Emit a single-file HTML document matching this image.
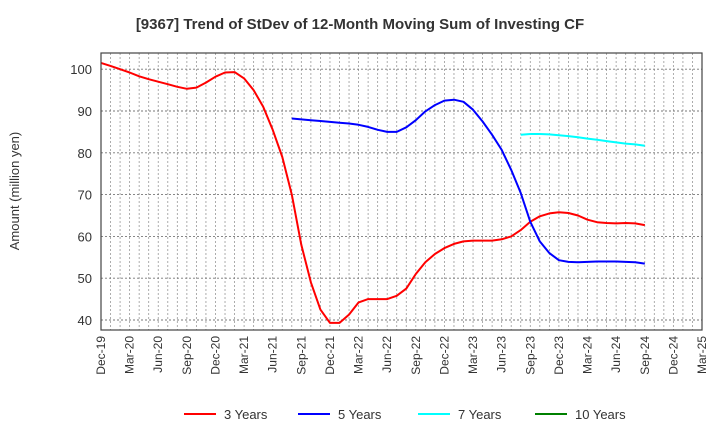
<!DOCTYPE html>
<html><head><meta charset="utf-8"><style>
body{margin:0;background:#fff;font-family:"Liberation Sans",sans-serif}
</style></head><body>
<svg id="chart" width="720" height="440" xmlns="http://www.w3.org/2000/svg" font-family="Liberation Sans, sans-serif">
<text x="360" y="29" text-anchor="middle" font-size="15" font-weight="bold" fill="#333">[9367]  Trend of StDev of 12-Month Moving Sum of Investing CF</text>
<text transform="translate(19,191) rotate(-90)" text-anchor="middle" font-size="13" fill="#333">Amount (million yen)</text>
<g id="grid"></g><g id="axes"></g><g id="series"></g>
<rect x="101" y="53" width="601" height="277" fill="none" stroke="#444" stroke-width="1.2"/>
<g font-size="13" fill="#333">
<line x1="184" y1="414" x2="216" y2="414" stroke="#ff0000" stroke-width="2"/><text x="224" y="419">3 Years</text>
<line x1="298" y1="414" x2="330" y2="414" stroke="#0000ff" stroke-width="2"/><text x="338" y="419">5 Years</text>
<line x1="418" y1="414" x2="450" y2="414" stroke="#00ffff" stroke-width="2"/><text x="458" y="419">7 Years</text>
<line x1="535" y1="414" x2="567" y2="414" stroke="#008000" stroke-width="2"/><text x="575" y="419">10 Years</text>
</g>
</svg>
<script>
const xLabels=["Dec-19","Mar-20","Jun-20","Sep-20","Dec-20","Mar-21","Jun-21","Sep-21","Dec-21","Mar-22","Jun-22","Sep-22","Dec-22","Mar-23","Jun-23","Sep-23","Dec-23","Mar-24","Jun-24","Sep-24","Dec-24","Mar-25"];
const yTicks=[40,50,60,70,80,90,100];
const s3Start=0;
const s3=[101.5,100.8,100,99.2,98.3,97.6,97,96.4,95.8,95.3,95.6,96.8,98.2,99.2,99.3,97.8,95,91,85.5,79,70,58,49,42.5,39.3,39.3,41.3,44.2,45,45,45,45.8,47.5,51,53.8,55.8,57.2,58.2,58.8,59,59,59,59.3,60,61.5,63.5,64.8,65.5,65.8,65.6,65,64,63.4,63.2,63.1,63.2,63.1,62.7];
const s5Start=20;
const s5=[88.2,88,87.8,87.6,87.4,87.2,87,86.7,86.2,85.5,85,85,86.1,87.8,89.9,91.4,92.5,92.7,92.2,90.3,87.5,84.3,80.7,75.9,70.4,63.5,58.8,56,54.3,53.9,53.8,53.9,54,54,54,53.9,53.8,53.5];
const s7Start=44;
const s7=[84.3,84.5,84.5,84.4,84.2,84,83.7,83.4,83.1,82.8,82.5,82.2,82,81.7];
const X0=101,PXM=601/63,YB=320,PXU=4.18;
const xm=i=>X0+i*PXM, yv=v=>YB-(v-40)*PXU;
const NS="http://www.w3.org/2000/svg";
const grid=document.getElementById('grid'),axes=document.getElementById('axes'),ser=document.getElementById('series');
function mk(t,a,p){const e=document.createElementNS(NS,t);for(const k in a)e.setAttribute(k,a[k]);p.appendChild(e);return e;}
for(let m=1;m<63;m++){const l=mk('line',{x1:xm(m),x2:xm(m),y1:53,y2:330,stroke:'#999','stroke-dasharray':'2,2','stroke-width':0.8},grid);

}
yTicks.forEach(v=>{const l=mk('line',{x1:101,x2:702,y1:yv(v),y2:yv(v),stroke:'#777','stroke-dasharray':'2,2','stroke-width':0.9},grid);


const t=mk('text',{x:92,y:yv(v)+5,'text-anchor':'end','font-size':13,fill:'#333'},axes);t.textContent=v;

});
xLabels.forEach((s,i)=>{const x=xm(i*3);const t=mk('text',{transform:`translate(${x+4},336) rotate(-90)`,'text-anchor':'end','font-size':12,fill:'#333'},axes);t.textContent=s;

});
function line(arr,st,col,name){const pts=arr.map((v,i)=>xm(st+i).toFixed(1)+','+yv(v).toFixed(1)).join(' ');
const p=mk('polyline',{points:pts,fill:'none',stroke:col,'stroke-width':2,'stroke-linejoin':'round'},ser);

}
line(s3,s3Start,'#ff0000','series-3-years');
line(s5,s5Start,'#0000ff','series-5-years');
line(s7,s7Start,'#00ffff','series-7-years');
</script>
</body></html>
